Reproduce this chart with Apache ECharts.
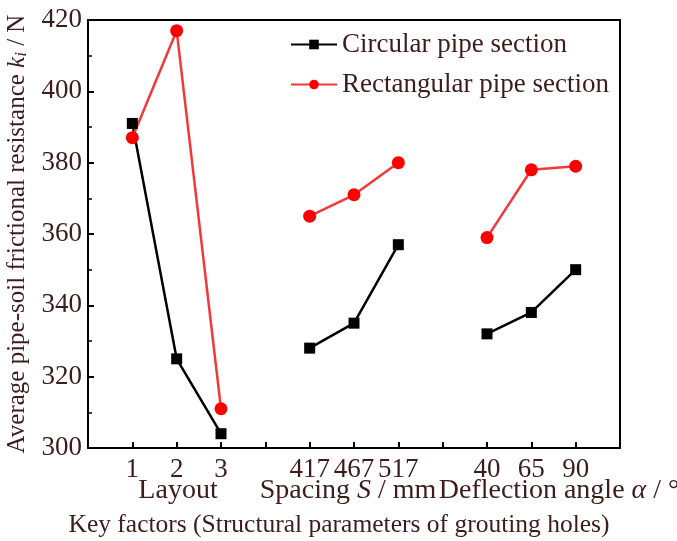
<!DOCTYPE html>
<html>
<head>
<meta charset="utf-8">
<script src="https://cdn.jsdelivr.net/npm/echarts@6/dist/echarts.min.js"></script>
<style>
  html, body { margin: 0; padding: 0; background: #fff; }
  #chart { width: 677px; height: 541px; }
</style>
</head>
<body>
<div id="chart"></div>
<script>
// x categories, blank slots separate the three factor groups
const xLabels = ['', '1', '2', '3', '', '417', '467', '517', '', '40', '65', '90', ''];
const groupNames = ['Layout', 'Spacing {i|S} / mm', 'Deflection angle {i|α} / °'];
// '-' = break between groups
const circular = ['-', 391, 325, 304, '-', 328, 335, 357, '-', 332, 338, 350, '-'];
const rectangular = ['-', 387, 417, 311, '-', 365, 371, 380, '-', 359, 378, 379, '-'];
const yTicks = { min: 300, max: 420, interval: 20 };

const txt = '#3d1c1c';
const font = 'Liberation Serif';

// centres of the group captions under the axis
const groupX = [178, 348, 559];

const chart = echarts.init(document.getElementById('chart'));
chart.setOption({
  animation: false,
  textStyle: { fontFamily: font },
  grid: { left: 88, top: 20, right: 57, bottom: 93, outerBoundsMode: 'none' },
  legend: {
    orient: 'vertical',
    left: 285,
    top: 26,
    itemWidth: 46,
    itemHeight: 12,
    itemGap: 13,
    textStyle: { fontFamily: font, fontSize: 27, color: txt },
    data: ['Circular pipe section', 'Rectangular pipe section']
  },
  graphic: groupNames.map((name, i) => ({
    type: 'text',
    x: groupX[i],
    y: 491,
    style: {
      text: name,
      fill: txt,
      font: '28px "Liberation Serif"',
      align: 'center',
      verticalAlign: 'middle',
      rich: { i: { fontStyle: 'italic', fontSize: 28, fontFamily: font, fill: txt } }
    }
  })),
  xAxis: [{
    type: 'category',
    data: xLabels,
    boundaryGap: false,
    axisLine: { lineStyle: { color: '#000', width: 2 } },
    axisTick: { inside: true, length: 6, lineStyle: { color: '#000', width: 2 }, interval: 0 },
    axisLabel: { interval: 0, fontSize: 27, color: txt, margin: 8, fontFamily: font },
    name: 'Key factors (Structural parameters of grouting holes)',
    nameLocation: 'middle',
    nameGap: 64,
    nameTextStyle: { fontSize: 25.5, color: txt, fontFamily: font, padding: [0, 30, 0, 0] }
  }, {
    type: 'category',
    position: 'top',
    data: xLabels,
    axisLine: { lineStyle: { color: '#000', width: 2 } },
    axisTick: { show: false },
    axisLabel: { show: false }
  }],
  yAxis: [{
    type: 'value',
    min: yTicks.min,
    max: yTicks.max,
    interval: yTicks.interval,
    axisLine: { show: true, lineStyle: { color: '#000', width: 2 } },
    axisTick: { show: true, inside: true, length: 6, lineStyle: { color: '#000', width: 2 } },
    minorTick: { show: true, splitNumber: 2, length: 4, lineStyle: { color: '#000', width: 1.5 } },
    splitLine: { show: false },
    axisLabel: { fontSize: 27, color: txt, margin: 6, fontFamily: font },
    name: 'Average pipe-soil frictional resistance {k|k}{s|i} / N',
    nameLocation: 'middle',
    nameGap: 58,
    nameTextStyle: {
      fontSize: 25, color: txt, fontFamily: font,
      rich: {
        k: { fontStyle: 'italic', fontSize: 25, color: txt, fontFamily: font },
        s: { fontStyle: 'italic', fontSize: 17, color: txt, fontFamily: font, padding: [9, 0, 0, 0] }
      }
    }
  }, {
    type: 'value',
    position: 'right',
    min: yTicks.min,
    max: yTicks.max,
    axisLine: { show: true, lineStyle: { color: '#000', width: 2 } },
    axisTick: { show: false },
    axisLabel: { show: false },
    splitLine: { show: false }
  }],
  series: [{
    name: 'Circular pipe section',
    type: 'line',
    data: circular,
    symbol: 'rect',
    symbolSize: 11,
    connectNulls: false,
    itemStyle: { color: '#000' },
    lineStyle: { color: '#000', width: 2.5 }
  }, {
    name: 'Rectangular pipe section',
    type: 'line',
    data: rectangular,
    symbol: 'circle',
    symbolSize: 13,
    connectNulls: false,
    itemStyle: { color: '#ff0000' },
    lineStyle: { color: '#f03a3a', width: 2.5 }
  }]
});
</script>
</body>
</html>
